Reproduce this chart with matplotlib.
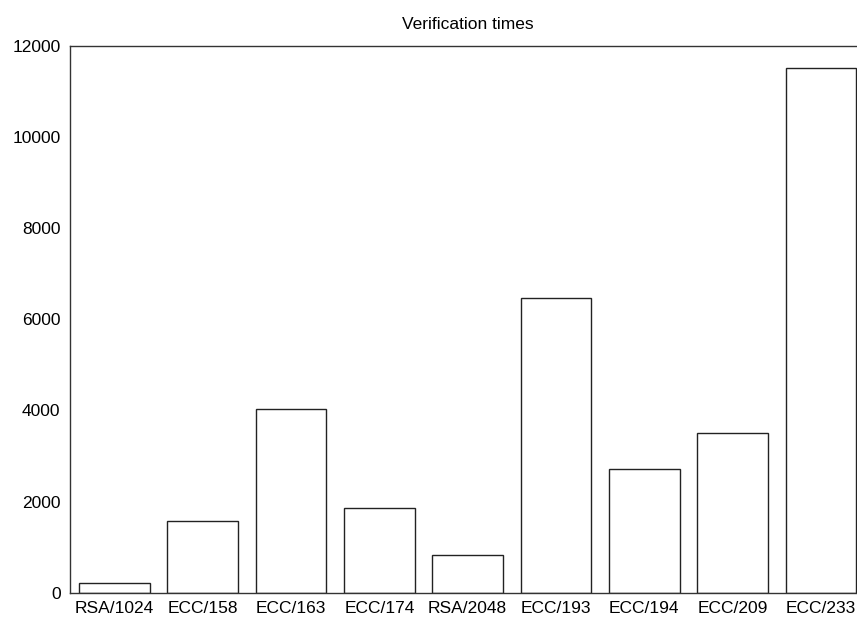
import matplotlib.pyplot as plt

labels = ["RSA/1024", "ECC/158", "ECC/163", "ECC/174", "RSA/2048",
          "ECC/193", "ECC/194", "ECC/209", "ECC/233"]
times = [210, 1575, 4035, 1860, 825, 6460, 2710, 3495, 11500]

plt.rcParams['font.family'] = ['Liberation Sans', 'DejaVu Sans']

fig = plt.figure(figsize=(8.57, 6.21), dpi=100)
ax = fig.add_axes([0.0820, 0.0456, 0.9273, 0.8808])

ax.bar(range(len(labels)), times, width=0.8, color="white",
       edgecolor="#222222", linewidth=1.0)

ax.set_xlim(-0.5, 8.5)
ax.set_ylim(0, 12000)
ax.set_yticks(range(0, 12001, 2000))
ax.set_xticks(range(len(labels)))
ax.set_xticklabels(labels)
ax.tick_params(length=0, labelsize=12.5)
ax.tick_params(axis="y", pad=7)
ax.tick_params(axis="x", pad=6)

ax.spines["right"].set_visible(False)
for s in ["left", "top", "bottom"]:
    ax.spines[s].set_color("#333333")
    ax.spines[s].set_linewidth(1.0)

ax.set_title("Verification times", fontsize=12.5, pad=12)

fig.savefig("out.png", dpi=100)
